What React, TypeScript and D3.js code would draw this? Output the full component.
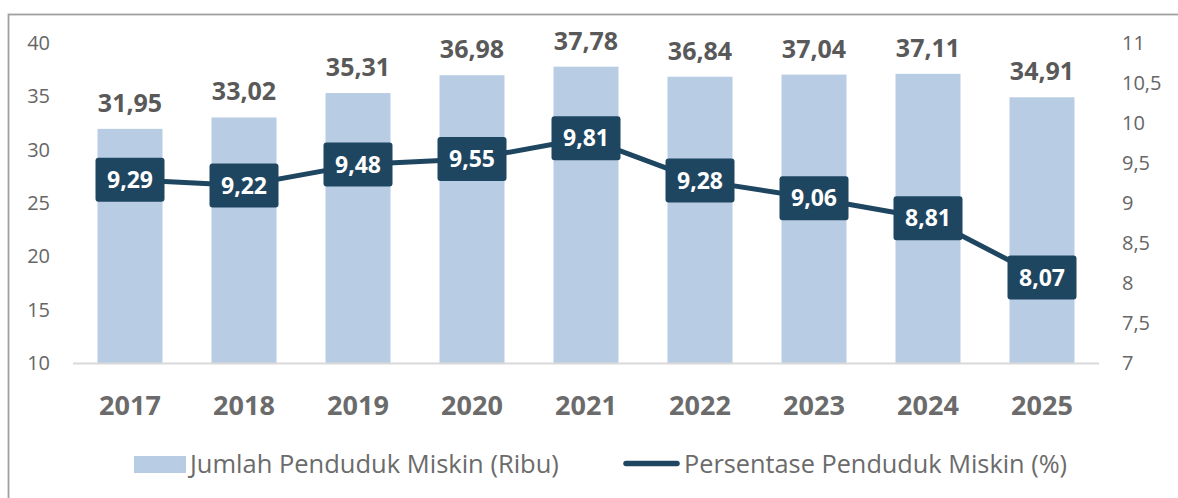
import React, { useEffect, useRef } from "react";
import * as d3 from "d3";

const years = ["2017", "2018", "2019", "2020", "2021", "2022", "2023", "2024", "2025"];
const jumlahMiskin = [31.95, 33.02, 35.31, 36.98, 37.78, 36.84, 37.04, 37.11, 34.91];
const persentaseMiskin = [9.29, 9.22, 9.48, 9.55, 9.81, 9.28, 9.06, 8.81, 8.07];
const leftTicks = [10, 15, 20, 25, 30, 35, 40];
const rightTicks = [7, 7.5, 8, 8.5, 9, 9.5, 10, 10.5, 11];
const legendLabels = ["Jumlah Penduduk Miskin (Ribu)", "Persentase Penduduk Miskin (%)"];

const fmt = (v: number, d: number) => v.toFixed(d).replace(".", ",");
const fmtTick = (v: number) => String(v).replace(".", ",");

export default function App() {
    const ref = useRef<SVGSVGElement>(null);

    useEffect(() => {
        if (!ref.current) return;
        const svg = d3.select(ref.current);
        svg.selectAll("*").remove();

        const plot = { left: 73, right: 1099, top: 43, bottom: 363 };
        const font = "'Open Sans', sans-serif";
        const lineColor = "#1f4661";
        const barColor = "#b8cce4";

        // chart frame, running off the right and bottom edges
        svg.append("rect")
            .attr("x", 8.5).attr("y", 14.5)
            .attr("width", 1200).attr("height", 520)
            .attr("fill", "#fff")
            .attr("stroke", "#a0a0a0")
            .attr("stroke-width", 1.8);

        const x = d3.scaleBand<string>()
            .domain(years)
            .range([plot.left, plot.right])
            .paddingInner(0.43)
            .paddingOuter(0.215);

        const yL = d3.scaleLinear().domain([10, 40]).range([plot.bottom, plot.top]);
        const yR = d3.scaleLinear().domain([7, 11]).range([plot.bottom, plot.top]);

        // left ticks
        svg.append("g").selectAll("text").data(leftTicks).join("text")
            .attr("x", 50).attr("y", d => yL(d))
            .attr("dy", "0.35em")
            .attr("text-anchor", "end")
            .attr("font-family", font).attr("font-size", 20)
            .attr("fill", "#666")
            .text(d => fmtTick(d));

        // right ticks
        svg.append("g").selectAll("text").data(rightTicks).join("text")
            .attr("x", 1122).attr("y", d => yR(d))
            .attr("dy", "0.35em")
            .attr("font-family", font).attr("font-size", 20)
            .attr("fill", "#666")
            .text(d => fmtTick(d));

        // bars
        svg.append("g").selectAll("rect").data(jumlahMiskin).join("rect")
            .attr("x", (_, i) => x(years[i])!)
            .attr("y", d => yL(d))
            .attr("width", x.bandwidth())
            .attr("height", d => yL(10) - yL(d))
            .attr("fill", barColor);

        // baseline
        svg.append("line")
            .attr("x1", plot.left).attr("x2", plot.right)
            .attr("y1", plot.bottom + 0.5).attr("y2", plot.bottom + 0.5)
            .attr("stroke", "#d9d9d9").attr("stroke-width", 2);

        // bar labels
        svg.append("g").selectAll("text").data(jumlahMiskin).join("text")
            .attr("x", (_, i) => x(years[i])! + x.bandwidth() / 2)
            .attr("y", d => yL(d) - 17)
            .attr("text-anchor", "middle")
            .attr("font-family", font).attr("font-size", 25).attr("font-weight", 700)
            .attr("fill", "#595959")
            .text(d => fmt(d, 2));

        // x labels
        svg.append("g").selectAll("text").data(years).join("text")
            .attr("x", d => x(d)! + x.bandwidth() / 2)
            .attr("y", 415)
            .attr("text-anchor", "middle")
            .attr("font-family", font).attr("font-size", 27).attr("font-weight", 700)
            .attr("fill", "#6b6b6b")
            .text(d => d);

        // line
        const line = d3.line<number>()
            .x((_, i) => x(years[i])! + x.bandwidth() / 2)
            .y(d => yR(d));

        svg.append("path")
            .datum(persentaseMiskin)
            .attr("fill", "none")
            .attr("stroke", lineColor)
            .attr("stroke-width", 5)
            .attr("stroke-linejoin", "round")
            .attr("d", line);

        // line labels
        const boxW = 69;
        const boxH = 44;
        const lbl = svg.append("g").selectAll("g").data(persentaseMiskin).join("g")
            .attr("transform", (d, i) => `translate(${x(years[i])! + x.bandwidth() / 2},${yR(d)})`);
        lbl.append("rect")
            .attr("x", -boxW / 2).attr("y", -boxH / 2)
            .attr("width", boxW).attr("height", boxH)
            .attr("rx", 3)
            .attr("fill", lineColor);
        lbl.append("text")
            .attr("text-anchor", "middle")
            .attr("dy", "0.36em")
            .attr("font-family", font).attr("font-size", 23).attr("font-weight", 700)
            .attr("fill", "#fff")
            .text(d => fmt(d, 2));

        // legend
        const lg = svg.append("g");
        lg.append("rect")
            .attr("x", 134).attr("y", 456).attr("width", 52).attr("height", 17)
            .attr("fill", barColor);
        lg.append("text")
            .attr("x", 190).attr("y", 464.5).attr("dy", "0.35em")
            .attr("font-family", font).attr("font-size", 25.5)
            .attr("fill", "#6b6b6b")
            .text(legendLabels[0]);
        lg.append("line")
            .attr("x1", 626).attr("x2", 677)
            .attr("y1", 463.5).attr("y2", 463.5)
            .attr("stroke", lineColor).attr("stroke-width", 5.5)
            .attr("stroke-linecap", "round");
        lg.append("text")
            .attr("x", 684).attr("y", 464.5).attr("dy", "0.35em")
            .attr("font-family", font).attr("font-size", 25.3)
            .attr("fill", "#6b6b6b")
            .text(legendLabels[1]);
    }, []);

    return (
        <svg
            ref={ref}
            width={1178}
            height={498}
            style={{ position: "absolute", left: 0, top: 0, display: "block" }}
        ></svg>
    );
}
